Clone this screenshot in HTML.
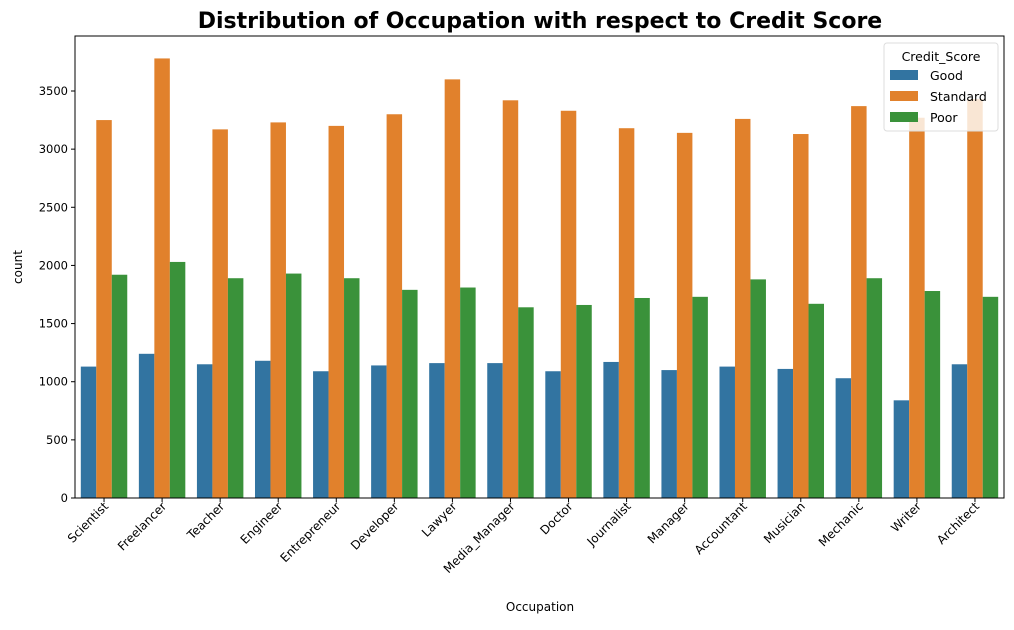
<!DOCTYPE html>
<html><head><meta charset="utf-8"><style>
body{margin:0;background:#fff;font-family:"Liberation Sans","DejaVu Sans",sans-serif}
</style></head><body>
<svg id="c" width="1014" height="625" xmlns="http://www.w3.org/2000/svg" font-family="DejaVu Sans, Liberation Sans, sans-serif">
<text x="540" y="28" text-anchor="middle" font-size="22" font-weight="bold">Distribution of Occupation with respect to Credit Score</text>
<g id="bars"></g>
<g id="axes"></g>
<rect x="75" y="36" width="929" height="462" fill="none" stroke="#000" stroke-width="1"/>
<text x="22" y="267" font-size="12" text-anchor="middle" transform="rotate(-90 22 267)">count</text>
<text x="540" y="611" font-size="12" text-anchor="middle">Occupation</text>
<g>
<rect x="884" y="43" width="114" height="88" rx="3" fill="#fff" fill-opacity="0.8" stroke="#ddd"/>
<text x="941" y="61" font-size="12.5" text-anchor="middle">Credit_Score</text>
<rect x="890" y="70" width="28" height="10" fill="#3274a1"/>
<text x="930" y="80" font-size="12.5">Good</text>
<rect x="890" y="91" width="28" height="10" fill="#e1812c"/>
<text x="930" y="101" font-size="12.5">Standard</text>
<rect x="890" y="112" width="28" height="10" fill="#3a923a"/>
<text x="930" y="122" font-size="12.5">Poor</text>
</g>
</svg>
<script>
const categories=["Scientist","Freelancer","Teacher","Engineer","Entrepreneur","Developer","Lawyer","Media_Manager","Doctor","Journalist","Manager","Accountant","Musician","Mechanic","Writer","Architect"];
const good=[1130,1240,1150,1180,1090,1140,1160,1160,1090,1170,1100,1130,1110,1030,840,1150];
const standard=[3250,3780,3170,3230,3200,3300,3600,3420,3330,3180,3140,3260,3130,3370,3270,3430];
const poor=[1920,2030,1890,1930,1890,1790,1810,1640,1660,1720,1730,1880,1670,1890,1780,1730];
const yTicks=[0,500,1000,1500,2000,2500,3000,3500];
const NS="http://www.w3.org/2000/svg";
const L=75,R=1004,T=36,B=498;
const y=v=>B-v*(B-91)/3500;
const gw=(R-L)/categories.length;
const xc=i=>L+gw*(i+0.5);
const bw=gw*0.8/3;
const bars=document.getElementById('bars'),axes=document.getElementById('axes');
function mk(tag,attrs,p){const e=document.createElementNS(NS,tag);for(const k in attrs)e.setAttribute(k,attrs[k]);p.appendChild(e);return e;}
const series=[[good,"#3274a1","good"],[standard,"#e1812c","standard"],[poor,"#3a923a","poor"]];
categories.forEach((c,i)=>{
 series.forEach(([arr,col,nm],j)=>{
  const r=mk('rect',{x:xc(i)+(j-1.5)*bw,y:y(arr[i]),width:bw,height:B-y(arr[i]),fill:col},bars);
  
  
 });
 mk('line',{x1:xc(i),x2:xc(i),y1:B,y2:B+4,stroke:'#000'},axes);
 const t=mk('text',{x:xc(i)+5,y:B+9,'font-size':12,'text-anchor':'end',transform:`rotate(-45 ${xc(i)+5} ${B+9})`},axes);
 t.textContent=c;
 
 
});
yTicks.forEach(v=>{
 mk('line',{x1:L-4,x2:L,y1:y(v),y2:y(v),stroke:'#000'},axes);
 const t=mk('text',{x:L-7,y:y(v)+4,'font-size':11.5,'text-anchor':'end'},axes);
 t.textContent=v;
 
 
});
</script>
</body></html>
